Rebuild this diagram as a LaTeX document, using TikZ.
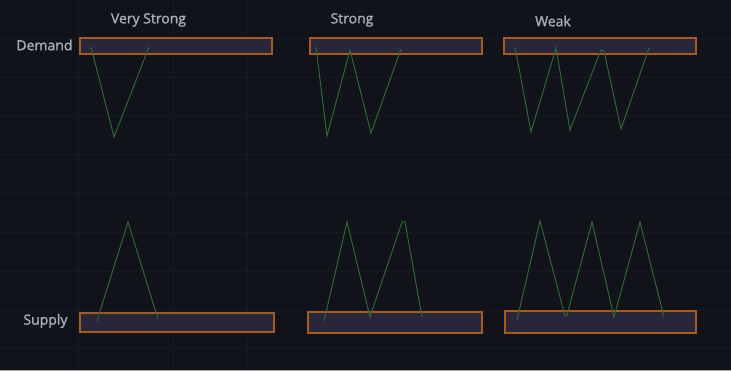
\documentclass[tikz,border=0pt]{standalone}
\usepackage{fontspec}
\setmainfont{Open Sans}
\newfontfamily\lblfont{Open Sans}[FakeBold=1.6]
\usetikzlibrary{positioning}

\definecolor{chartbg}{HTML}{10131A}
\definecolor{gridln}{HTML}{171A22}
\definecolor{zonefill}{HTML}{27263A}
\definecolor{zoneedge}{HTML}{A85B1B}
\definecolor{legline}{HTML}{2D6731}
\definecolor{txtgray}{HTML}{A9ACB4}

\begin{document}
\begin{tikzpicture}[x=1pt,y=-1pt]
\tikzstyle{every node}=[font=\lblfont\fontsize{14}{16}\selectfont, text=txtgray]
\tikzstyle{zone}=[draw=zoneedge, fill=zonefill, line width=1.1pt, inner sep=0pt, minimum height=16pt]
\tikzstyle{leg}=[draw=legline, line width=1pt, line join=miter]

\fill[chartbg] (0,0) rectangle (731,371);
\useasboundingbox (0,0) rectangle (731,371);
\foreach \gy in {38,77,115,154,193,232,271,310,348}
  \draw[gridln, line width=0.8pt] (0,\gy) -- (731,\gy);
\foreach \gx in {78,173,247}
  \draw[gridln, line width=0.8pt] (\gx,0) -- (\gx,371);
\draw[gray!70, line width=1.2pt] (0,370.4) -- (731,370.4);

% zones
\node[zone, minimum width=192pt] (dVS) at (176,46) {};
\node[zone, minimum width=172pt] (dS) at (396,46) {};
\node[zone, minimum width=192pt] (dW) at (600,46) {};
\node[zone, minimum width=194pt, minimum height=19pt] (sVS) at (177,322.5) {};
\node[zone, minimum width=174pt, minimum height=21pt] (sS) at (395,322.5) {};
\node[zone, minimum width=191pt, minimum height=22pt] (sW) at (600.5,322) {};

% labels
\node (vs) at (148.5,20) {Very Strong};
\node (st) at (352,20) {Strong};
\node (wk) at (553,21) {Weak};
\node[anchor=east] (dem) at (76,45) {Demand};
\node[anchor=east] (sup) at (71,321) {Supply};

% legs
\draw[leg] (91,47) -- (114,137) -- (149,47);
\draw[leg] (316,47) -- (327,136) -- (350,50) -- (371,133) -- (401,49);
\draw[leg] (515,47) -- (531,132) -- (556,48) -- (570,130) -- (601,50) -- (604,51) -- (621,129) -- (649,48);
\draw[leg] (97,321) -- (128,222) -- (158,319);
\draw[leg] (324,321) -- (347,222) -- (370,317) -- (402,222) -- (405,222) -- (422,317);
\draw[leg] (517,320) -- (540,221) -- (565,316) -- (567,315) -- (592,222) -- (614,317) -- (640,222) -- (664,317);
\end{tikzpicture}
\end{document}
